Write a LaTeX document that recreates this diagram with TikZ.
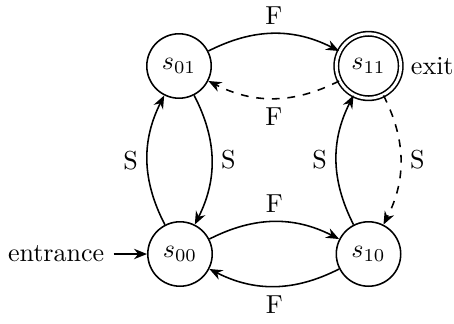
\documentclass[tikz,border=0pt]{standalone}
\usepackage{amsmath,amssymb}
\usepackage{tikz}
\usetikzlibrary{arrows.meta,positioning}

\begin{document}
\begin{tikzpicture}[x=0.0135cm,y=-0.0135cm,semithick,>={Stealth[length=5pt,width=4pt]},
    state/.style={draw,circle,minimum size=0.87cm,inner sep=0pt},
    accepting/.style={state,double,double distance=1.1pt}]
  \useasboundingbox (0,0) rectangle (454,323);
  \node[state] (s01) at (179,66) {$s_{01}$};
  \node[accepting] (s11) at (368.5,66) {$s_{11}$};
  \node[state] (s00) at (180,254) {$s_{00}$};
  \node[state] (s10) at (368.5,254) {$s_{10}$};
  \node[left=0.45cm of s00] (entr) {entrance};
  \node[right=0pt of s11] (exit) {exit};
  \draw[->] (entr) -- (s00);
  \draw[->] (s01) to[bend left=27] node[above] {F} (s11);
  \draw[->,dashed] (s11) to[bend left=27] node[below] {F} (s01);
  \draw[->] (s00) to[bend left=27] node[left] {S} (s01);
  \draw[->] (s01) to[bend left=27] node[right] {S} (s00);
  \draw[->] (s00) to[bend left=27] node[above] {F} (s10);
  \draw[->] (s10) to[bend left=27] node[below] {F} (s00);
  \draw[->] (s10) to[bend left=27] node[left] {S} (s11);
  \draw[->,dashed] (s11) to[bend left=27] node[right] {S} (s10);
\end{tikzpicture}
\end{document}
